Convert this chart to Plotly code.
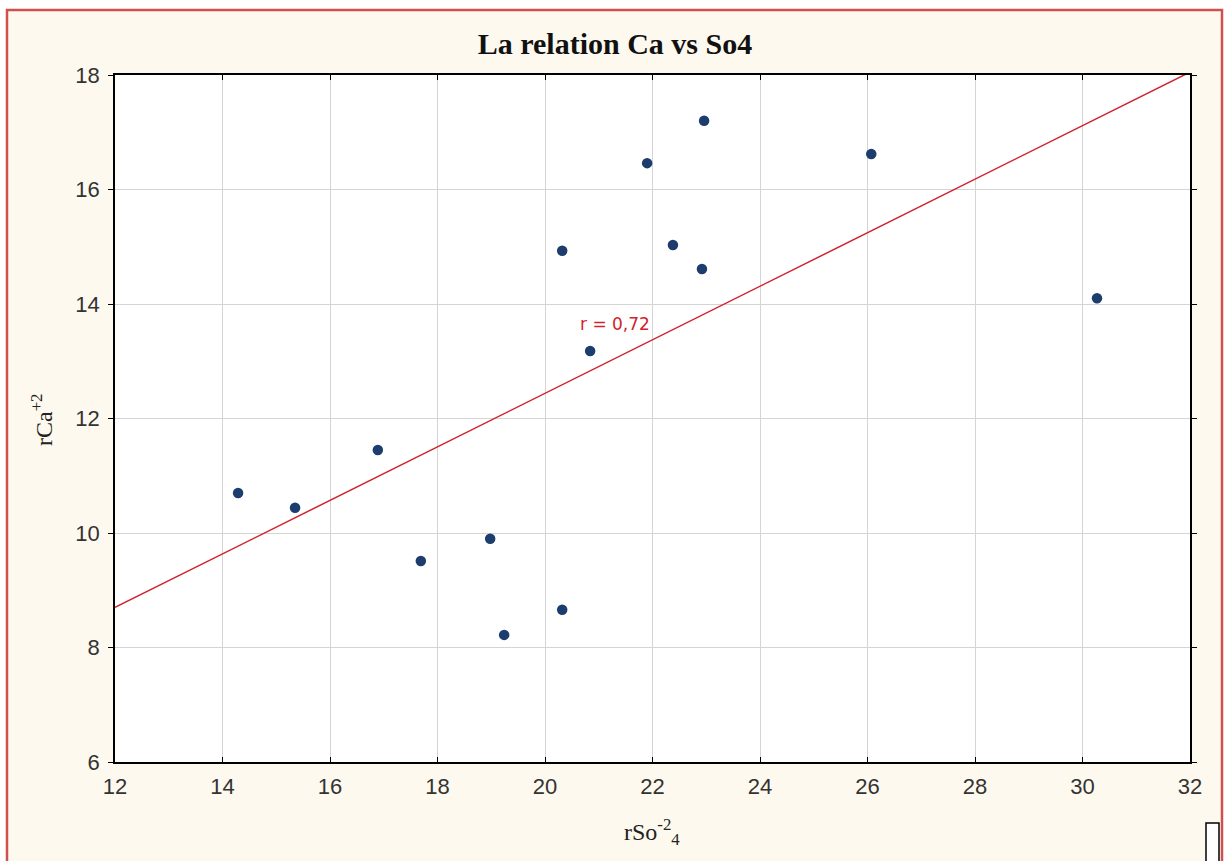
import plotly.graph_objects as go

# data
so4 = [14.29, 15.35, 16.89, 17.69, 18.98, 19.24, 20.32, 20.32, 20.84, 21.90, 22.38, 22.92, 22.96, 26.07, 30.27]
ca = [10.70, 10.44, 11.45, 9.51, 9.90, 8.22, 8.66, 14.93, 13.18, 16.46, 15.03, 14.61, 17.20, 16.62, 14.10]
fit_x = [12, 32]
fit_y = [8.70, 18.05]
x_ticks = [12, 14, 16, 18, 20, 22, 24, 26, 28, 30, 32]
y_ticks = [6, 8, 10, 12, 14, 16, 18]
r_label = "r = 0,72"
r_pos = (21.3, 13.65)
title_text = "<b>La relation Ca vs So4</b>"
x_title = "rSo<sup>-2</sup><sub>4</sub>"
y_title = "rCa<sup>+2</sup>"

L, R, T, B = 115, 1190, 75, 762
W, H = 1228, 861
pw, ph = R - L, B - T

def px_x(p):
    return (p - L) / pw

def px_y(p):
    return (B - p) / ph

fig = go.Figure()
fig.add_trace(go.Scatter(x=fit_x, y=fit_y, mode="lines",
                         line=dict(color="#d2222d", width=1.5), hoverinfo="skip"))
fig.add_trace(go.Scatter(x=so4, y=ca, mode="markers",
                         marker=dict(color="#1c3d6e", size=10.5)))

fig.add_annotation(x=r_pos[0], y=r_pos[1], text=r_label, showarrow=False,
                   font=dict(family="DejaVu Sans", size=17, color="#d2222d"))

serif = "Liberation Serif, Times New Roman, serif"
tickfont = dict(family="Liberation Sans, Arial", size=22, color="#333")

fig.add_annotation(xref="paper", yref="paper", x=px_x(652), y=px_y(832), text=x_title,
                   showarrow=False, xanchor="center", yanchor="middle",
                   font=dict(family=serif, size=24, color="#222"))
fig.add_annotation(xref="paper", yref="paper", x=px_x(42), y=px_y(420), text=y_title,
                   showarrow=False, xanchor="center", yanchor="middle", textangle=-90,
                   font=dict(family=serif, size=24, color="#222"))

fig.update_layout(
    width=W, height=H,
    margin=dict(l=L, r=W - R, t=T, b=H - B),
    paper_bgcolor="white", plot_bgcolor="white",
    showlegend=False,
    title=dict(text=title_text, x=615 / W, xanchor="center",
               y=1 - 43 / H, yanchor="middle",
               font=dict(family=serif, size=30, color="#111")),
    xaxis=dict(range=[12, 32], tickvals=x_ticks, showgrid=True, gridcolor="#d4d4d4", gridwidth=1,
               zeroline=False, showline=True, linecolor="black", linewidth=1.5, mirror="ticks",
               ticks="inside", ticklen=5, tickcolor="black", ticklabelstandoff=4,
               tickfont=tickfont),
    yaxis=dict(range=[6, 18], tickvals=y_ticks, showgrid=True, gridcolor="#d4d4d4", gridwidth=1,
               zeroline=False, showline=True, linecolor="black", linewidth=1.5, mirror="ticks",
               ticks="outside", ticklen=5, tickcolor="black", ticklabelstandoff=4,
               tickfont=tickfont),
)

# outer cream frame with red border
fig.add_shape(type="rect", xref="paper", yref="paper", layer="below",
              x0=px_x(7), x1=px_x(1222), y0=px_y(880), y1=px_y(10),
              fillcolor="#fdf9ee", line=dict(color="#d05050", width=2.5))
# white plot area
fig.add_shape(type="rect", xref="paper", yref="paper", layer="below",
              x0=0, x1=1, y0=0, y1=1, fillcolor="white", line=dict(width=0))
# small box bottom right
fig.add_shape(type="rect", xref="paper", yref="paper", layer="above",
              x0=px_x(1206), x1=px_x(1219), y0=px_y(870), y1=px_y(823),
              fillcolor="white", line=dict(color="black", width=1.5))

fig.write_html("out.html")
